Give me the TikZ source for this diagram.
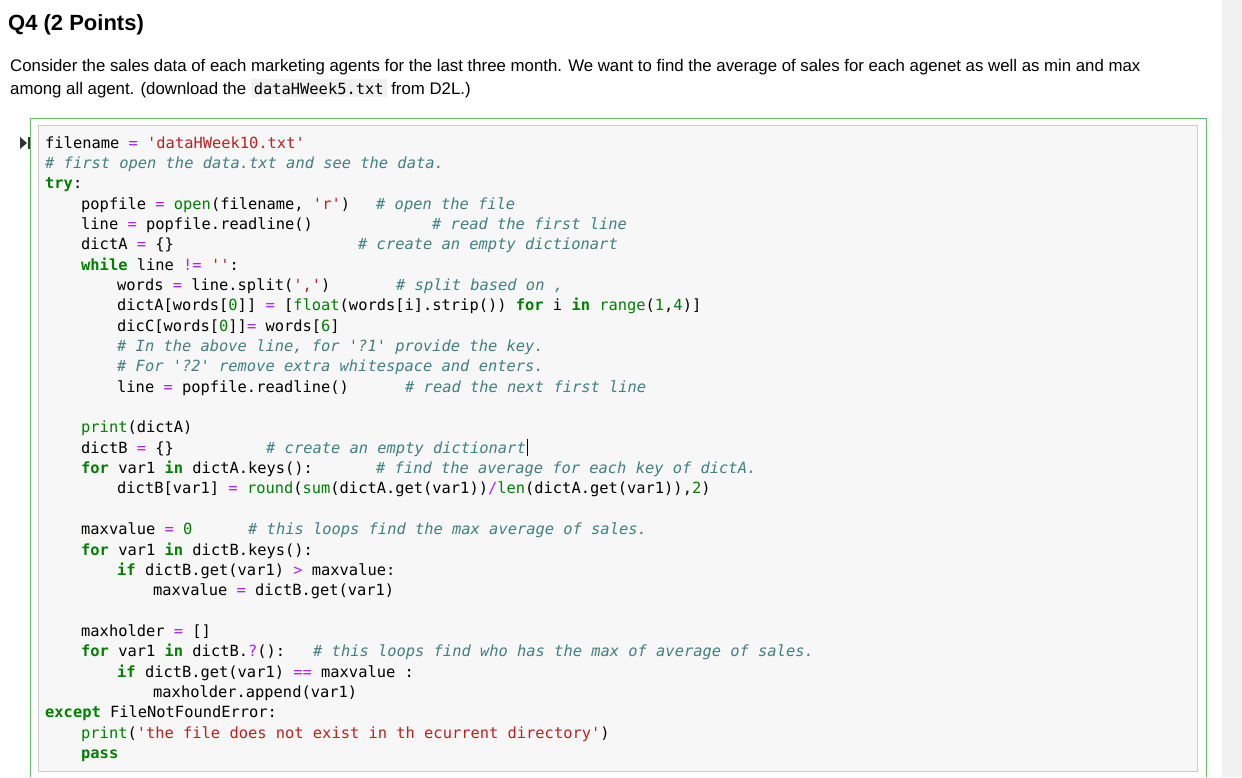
\documentclass[tikz,border=0pt]{standalone}
\usepackage{fontspec}
\setmainfont{Liberation Sans}
\newfontfamily\codef{DejaVu Sans Mono}
\definecolor{kwc}{HTML}{008000}
\definecolor{stc}{HTML}{BA2121}
\definecolor{cmc}{HTML}{408080}
\definecolor{opc}{HTML}{AA22FF}
\definecolor{framec}{HTML}{66BB6A}
\newcommand\kw[1]{\textcolor{kwc}{\bfseries #1}}
\newcommand\bi[1]{\textcolor{kwc}{#1}}
\newcommand\st[1]{\textcolor{stc}{#1}}
\newcommand\op[1]{\textcolor{opc}{#1}}
\newcommand\cmt[1]{\textcolor{cmc}{\itshape #1}}
\newcommand\cl[3]{\node[codeline] (l#1) at (#2,{148+20.35*(#1-1)}) {#3};}
\newcommand\cc[3]{\node[codeline] (c#1) at (#2,{148+20.35*(#1-1)}) {\cmt{#3}};}
\tikzset{codeline/.style={anchor=base west,inner sep=0pt,font=\codef\fontsize{15.4}{17}\selectfont}}
\begin{document}
\begin{tikzpicture}[x=1pt,y=-1pt]
\useasboundingbox (0,0) rectangle (1242,777);
\fill[white] (0,0) rectangle (1242,777);
\fill[black!6] (1222,0) rectangle (1242,777);
\node[anchor=base west,inner sep=0pt,font=\bfseries\fontsize{22}{25}\selectfont] (title) at (8,30) {Q4 (2 Points)};
\node[anchor=base west,inner sep=0pt,font=\fontsize{16.8}{19}\selectfont] (p1) at (10,71) {Consider the sales data of each marketing agents for the last three month. We want to find the average of sales for each agenet as well as min and max};
\node[anchor=base west,inner sep=0pt,font=\fontsize{16.8}{19}\selectfont] (p2) at (10,94) {among all agent. (download the {\fboxsep=3pt\colorbox{black!6}{\codef\fontsize{15.4}{17}\selectfont dataHWeek5.txt}} from D2L.)};
\draw[framec,line width=1pt] (30,777) -- (30,118) -- (1206,118) -- (1206,777);
\draw[fill=black!3,draw=black!20] (38,125) rectangle (1197,771);
\fill[black!80] (20,137) -- (27,143) -- (20,149) -- cycle;
\fill[black!80] (27.5,137) rectangle (29.5,149);
\cl{1}{45}{filename \op{=} \st{'dataHWeek10.txt'}}
\cc{2}{45}{\# first open the data.txt and see the data.}
\cl{3}{45}{\kw{try}:}
\cl{4}{81}{popfile \op{=} \bi{open}(filename, \st{'r'})}
\cc{4}{376}{\# open the file}
\cl{5}{81}{line \op{=} popfile.readline()}
\cc{5}{432}{\# read the first line}
\cl{6}{81}{dictA \op{=} \{\}}
\cc{6}{358}{\# create an empty dictionart}
\cl{7}{81}{\kw{while} line \op{!=} \st{''}:}
\cl{8}{117}{words \op{=} line.split(\st{','})}
\cc{8}{396}{\# split based on ,}
\cl{9}{117}{dictA[words[\bi{0}]] \op{=} [\bi{float}(words[i].strip()) \kw{for} i \kw{in} \bi{range}(\bi{1},\bi{4})]}
\cl{10}{117}{dicC[words[\bi{0}]]\op{=} words[\bi{6}]}
\cc{11}{117}{\# In the above line, for '?1' provide the key.}
\cc{12}{117}{\# For '?2' remove extra whitespace and enters.}
\cl{13}{117}{line \op{=} popfile.readline()}
\cc{13}{405}{\# read the next first line}
\cl{15}{81}{\bi{print}(dictA)}
\cl{16}{81}{dictB \op{=} \{\}}
\cc{16}{266}{\# create an empty dictionart}
\draw[black] (c16.base east) ++(1,3) -- ++(0,-17);
\cl{17}{81}{\kw{for} var1 \kw{in} dictA.keys():}
\cc{17}{376}{\# find the average for each key of dictA.}
\cl{18}{117}{dictB[var1] \op{=} \bi{round}(\bi{sum}(dictA.get(var1))\op{/}\bi{len}(dictA.get(var1)),\bi{2})}
\cl{20}{81}{maxvalue \op{=} \bi{0}}
\cc{20}{248}{\# this loops find the max average of sales.}
\cl{21}{81}{\kw{for} var1 \kw{in} dictB.keys():}
\cl{22}{117}{\kw{if} dictB.get(var1) \op{>} maxvalue:}
\cl{23}{153}{maxvalue \op{=} dictB.get(var1)}
\cl{25}{81}{maxholder \op{=} []}
\cl{26}{81}{\kw{for} var1 \kw{in} dictB.\op{?}():}
\cc{26}{313}{\# this loops find who has the max of average of sales.}
\cl{27}{117}{\kw{if} dictB.get(var1) \op{==} maxvalue :}
\cl{28}{153}{maxholder.append(var1)}
\cl{29}{45}{\kw{except} FileNotFoundError:}
\cl{30}{81}{\bi{print}(\st{'the file does not exist in th ecurrent directory'})}
\cl{31}{81}{\kw{pass}}
\end{tikzpicture}
\end{document}
